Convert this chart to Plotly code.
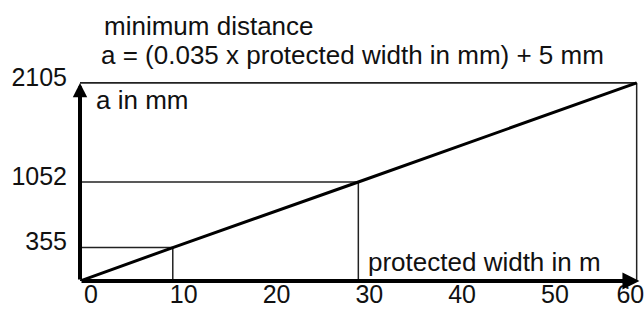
import plotly.graph_objects as go

# ---- data ----
width_m = [0, 10, 30, 60]            # protected width in m
distance_mm = [0, 355, 1052, 2105]   # minimum distance a in mm
guide_x = [10, 30]                   # marked widths
guide_y = [355, 1052]                # corresponding distances
x_ticks = [0, 10, 20, 30, 40, 50, 60]
x_ticktext = ["0", "10", "20", "30", "40", "50",
              "60\u00a0\u00a0\u00a0\u00a0\u00a0"]
y_ticks = [355, 1052, 2105]
y_ticktext = ["355", "1052", "2105"]
x_max = 60
y_max = 2105

FONT = "Liberation Sans, Arial, Helvetica, sans-serif"
FS = 25
FS_T = 26

fig = go.Figure()

# diagonal line
fig.add_trace(go.Scatter(x=width_m, y=distance_mm, mode="lines",
                         line=dict(color="black", width=3),
                         hoverinfo="skip", showlegend=False))

# guide lines
for gx, gy in zip(guide_x, guide_y):
    fig.add_shape(type="line", x0=0, y0=gy, x1=gx, y1=gy,
                  line=dict(color="#222222", width=1.5), layer="below")
    fig.add_shape(type="line", x0=gx, y0=0, x1=gx, y1=gy,
                  line=dict(color="#222222", width=1.5), layer="below")

# frame top and right
fig.add_shape(type="line", x0=0, y0=y_max, x1=x_max, y1=y_max,
              line=dict(color="#222222", width=1.8), layer="below")
fig.add_shape(type="line", x0=x_max, y0=0, x1=x_max, y1=y_max,
              line=dict(color="#222222", width=1.5), layer="below")

# axes with arrows
fig.add_annotation(x=0, y=y_max, ax=0, ay=0, xref="x", yref="y",
                   axref="x", ayref="y", text="", showarrow=True,
                   arrowhead=2, arrowsize=0.72, arrowwidth=4,
                   arrowcolor="black")
fig.add_annotation(x=x_max * 1.005, y=0, ax=0, ay=0, xref="x", yref="y",
                   axref="x", ayref="y", text="", showarrow=True,
                   arrowhead=2, arrowsize=0.85, arrowwidth=4,
                   arrowcolor="black")

# axis labels
fig.add_annotation(x=0, y=y_max, xref="x", yref="y", xanchor="left",
                   yanchor="middle", xshift=14, yshift=-17,
                   text="a in mm", showarrow=False,
                   font=dict(family=FONT, size=FS_T, color="#111"))
fig.add_annotation(x=guide_x[1], y=0, xref="x", yref="y", xanchor="left",
                   yanchor="middle", xshift=8, yshift=19,
                   text="protected width in m", showarrow=False,
                   font=dict(family=FONT, size=FS_T, color="#111"))

# title lines
fig.add_annotation(x=0, y=1, xref="x", yref="paper", xanchor="left",
                   yanchor="middle", xshift=22, yshift=55,
                   text="minimum distance", showarrow=False,
                   font=dict(family=FONT, size=FS_T, color="#111"))
fig.add_annotation(x=0, y=1, xref="x", yref="paper", xanchor="left",
                   yanchor="middle", xshift=19, yshift=26,
                   text="a = (0.035 x protected width in mm) + 5 mm",
                   showarrow=False,
                   font=dict(family=FONT, size=FS_T, color="#111"))

fig.update_layout(
    template="none",
    width=644, height=312,
    margin=dict(l=80, r=4, t=81, b=31, pad=0),
    paper_bgcolor="white", plot_bgcolor="white",
    showlegend=False,
    font=dict(family=FONT, size=FS, color="#111"),
    xaxis=dict(range=[0, x_max * 1.006], showgrid=False, zeroline=False,
               showline=False, ticks="", tickvals=x_ticks,
               ticktext=x_ticktext, ticklabelstandoff=-4,
               ticklabelshift=11, ticklabeloverflow="allow",
               automargin=False,
               tickfont=dict(family=FONT, size=FS, color="#111")),
    yaxis=dict(range=[0, y_max * 1.0095], showgrid=False, zeroline=False,
               showline=False, ticks="", tickvals=y_ticks,
               ticktext=y_ticktext, ticklabelstandoff=12,
               ticklabelshift=-6, ticklabeloverflow="allow",
               automargin=False,
               tickfont=dict(family=FONT, size=FS, color="#111")),
)

fig.write_html("out.html",
               config={"displayModeBar": False},
               post_script="document.body.style.margin='0';"
                           "document.body.style.overflow='hidden';")
